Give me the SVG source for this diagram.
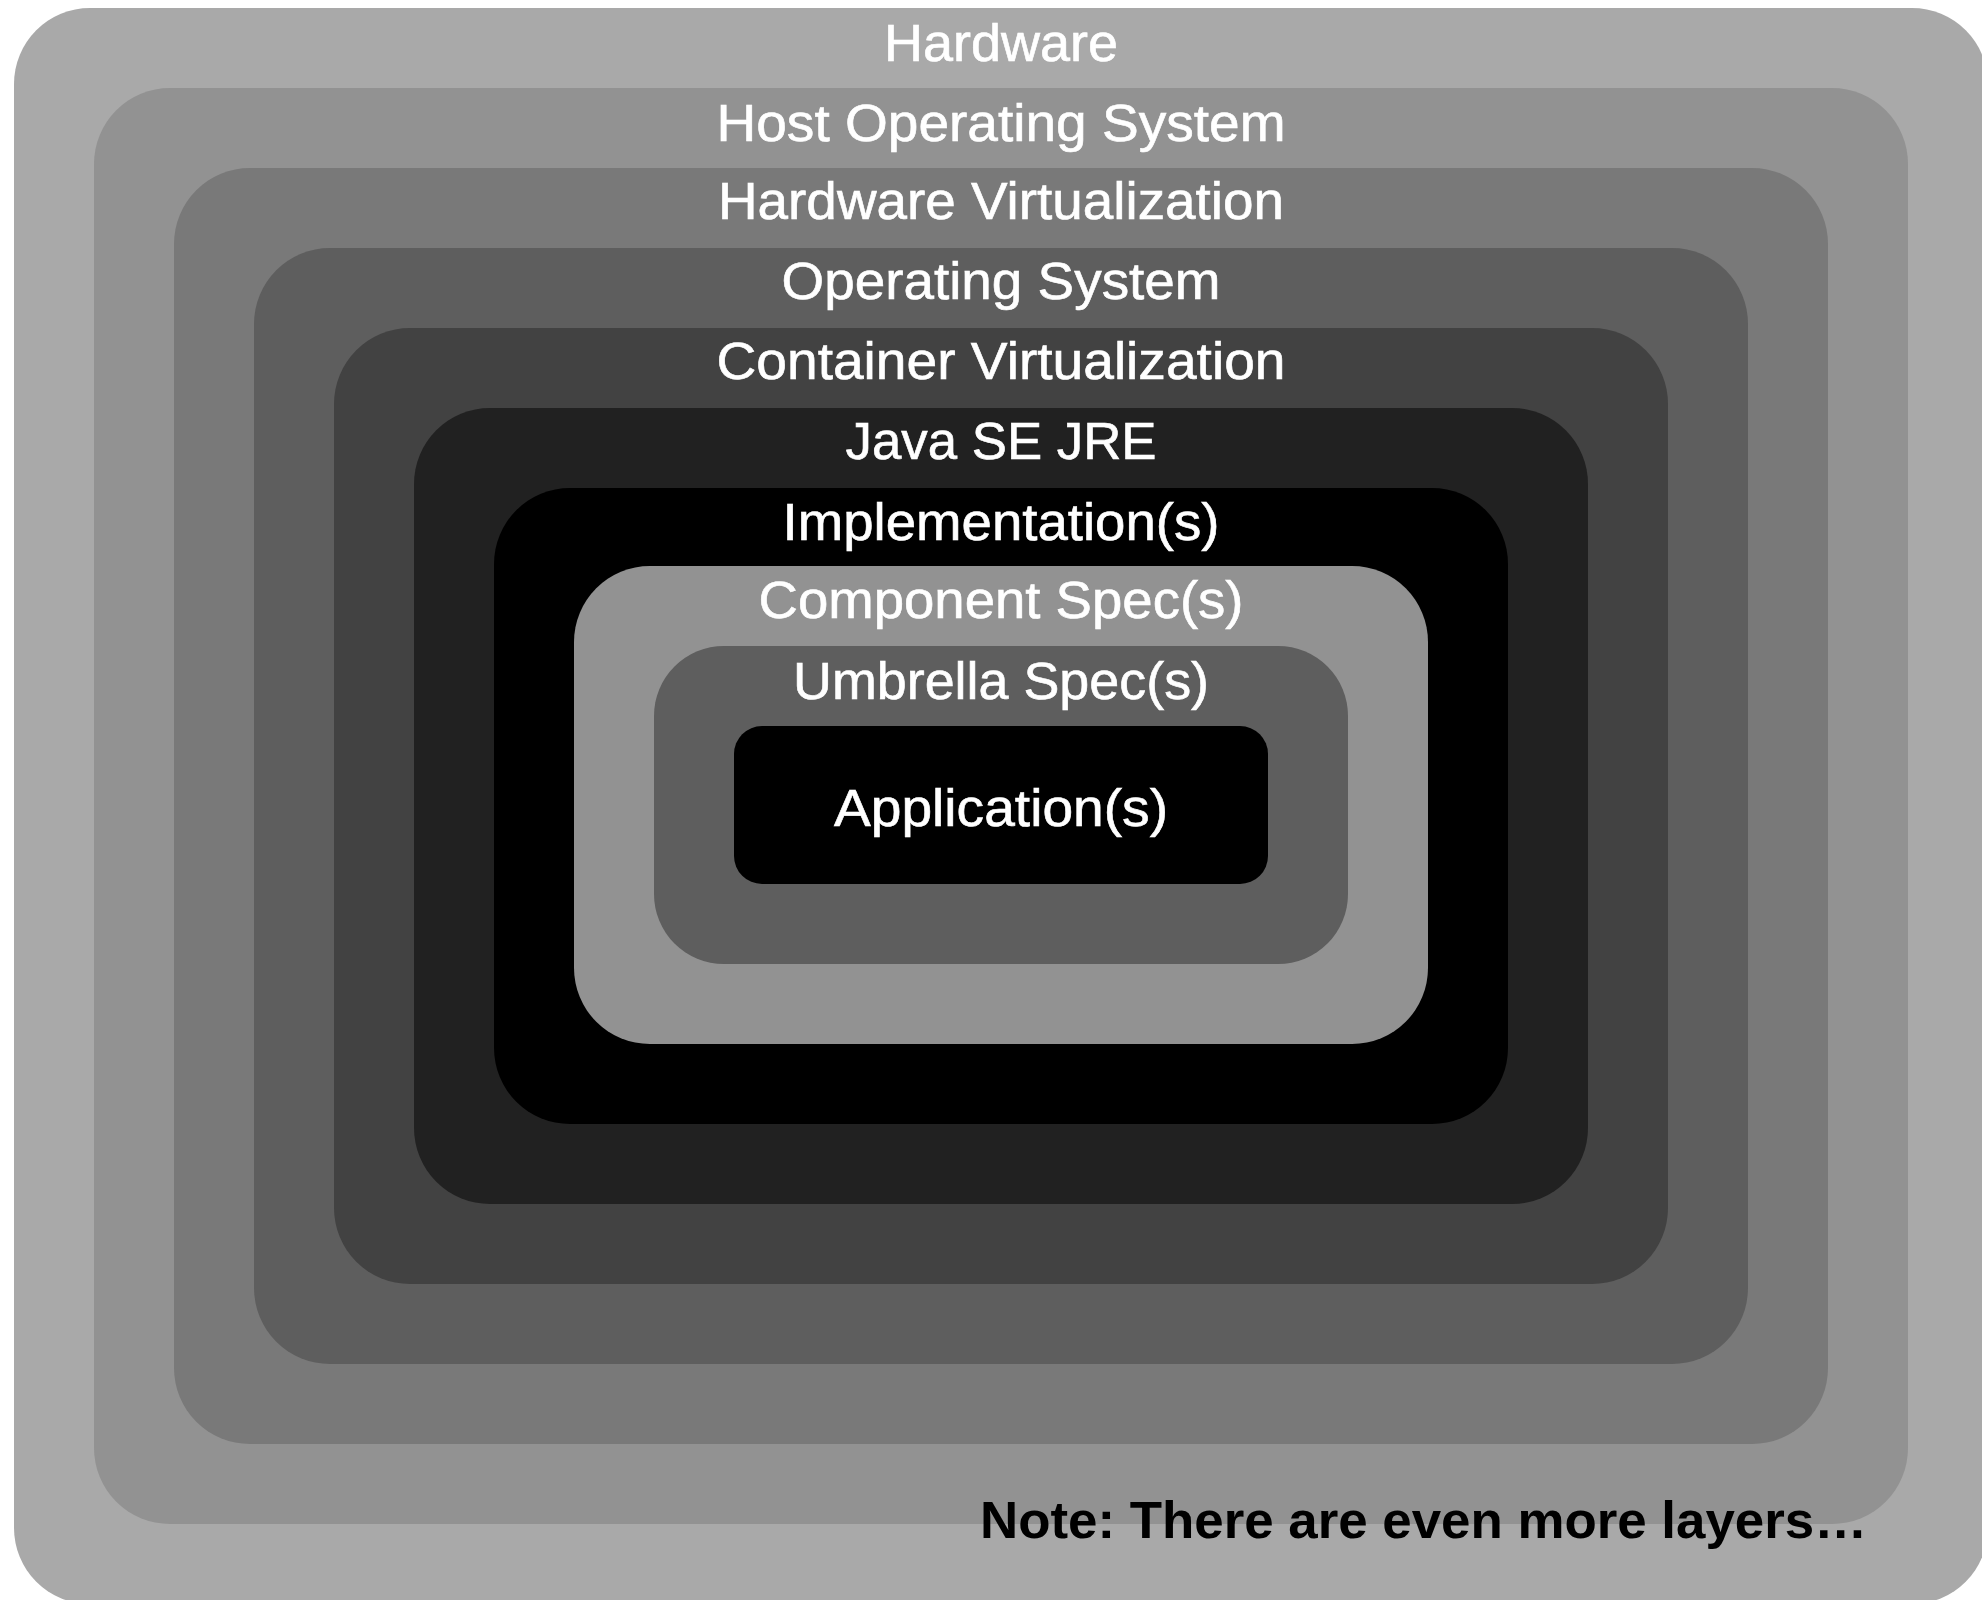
<svg xmlns="http://www.w3.org/2000/svg" width="1982" height="1600" viewBox="0 0 1982 1600">
<style>
.lbl{font-family:"Liberation Sans",Arial,Helvetica,sans-serif;font-size:51px;fill:#ffffff;stroke:#ffffff;stroke-width:0.6px;text-anchor:middle;}
.note{font-family:"Liberation Sans",Arial,Helvetica,sans-serif;font-size:52px;font-weight:bold;fill:#000000;}
</style>
<rect x="0" y="0" width="1982" height="1600" fill="#ffffff"/>
<g id="hardware">
<rect x="14" y="8" width="1974" height="1596" rx="76" fill="#a9a9a9"/>
<text class="lbl" x="1001" y="61" textLength="234" lengthAdjust="spacingAndGlyphs">Hardware</text>
</g>
<g id="host-os">
<rect x="94" y="88" width="1814" height="1436" rx="76" fill="#929292"/>
<text class="lbl" x="1001" y="141" textLength="569" lengthAdjust="spacingAndGlyphs">Host Operating System</text>
</g>
<g id="hw-virt">
<rect x="174" y="168" width="1654" height="1276" rx="76" fill="#797979"/>
<text class="lbl" x="1001" y="219" textLength="566" lengthAdjust="spacingAndGlyphs">Hardware Virtualization</text>
</g>
<g id="os">
<rect x="254" y="248" width="1494" height="1116" rx="76" fill="#5e5e5e"/>
<text class="lbl" x="1001" y="299" textLength="439" lengthAdjust="spacingAndGlyphs">Operating System</text>
</g>
<g id="container-virt">
<rect x="334" y="328" width="1334" height="956" rx="76" fill="#424242"/>
<text class="lbl" x="1001" y="379" textLength="569" lengthAdjust="spacingAndGlyphs">Container Virtualization</text>
</g>
<g id="jre">
<rect x="414" y="408" width="1174" height="796" rx="76" fill="#212121"/>
<text class="lbl" x="1001" y="459" textLength="311" lengthAdjust="spacingAndGlyphs">Java SE JRE</text>
</g>
<g id="impl">
<rect x="494" y="488" width="1014" height="636" rx="76" fill="#000000"/>
<text class="lbl" x="1001" y="540" textLength="437" lengthAdjust="spacingAndGlyphs">Implementation(s)</text>
</g>
<g id="component-spec">
<rect x="574" y="566" width="854" height="478" rx="76" fill="#929292"/>
<text class="lbl" x="1001" y="618" textLength="485" lengthAdjust="spacingAndGlyphs">Component Spec(s)</text>
</g>
<g id="umbrella-spec">
<rect x="654" y="646" width="694" height="318" rx="70" fill="#5e5e5e"/>
<text class="lbl" x="1001" y="699" textLength="416" lengthAdjust="spacingAndGlyphs">Umbrella Spec(s)</text>
</g>
<g id="application">
<rect x="734" y="726" width="534" height="158" rx="28" fill="#000000"/>
<text class="lbl" x="1001" y="826" textLength="334" lengthAdjust="spacingAndGlyphs">Application(s)</text>
</g>
<g id="note">
<text class="note" x="980" y="1538" textLength="887" lengthAdjust="spacingAndGlyphs">Note: There are even more layers…</text>
</g>
<g id="connectors"></g>
</svg>
